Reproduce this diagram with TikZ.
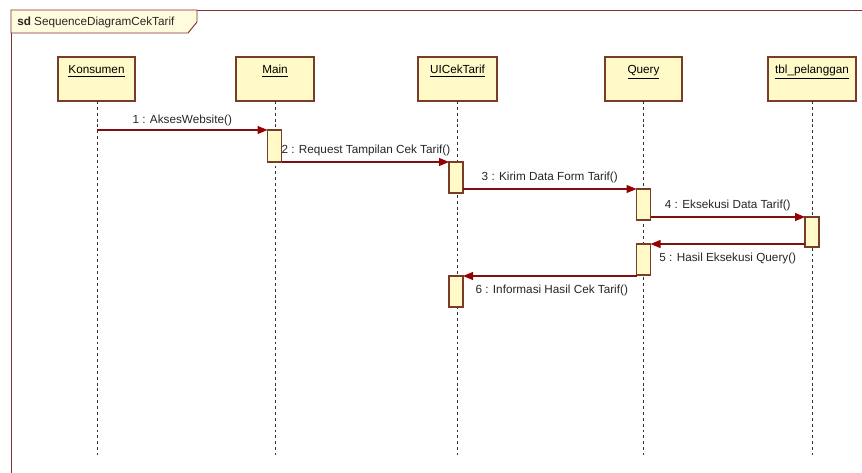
\documentclass[tikz,border=0pt]{standalone}
\usepackage{fontspec}
\setmainfont{Liberation Sans}
\usetikzlibrary{arrows.meta}
\definecolor{frameC}{RGB}{128,48,48}
\definecolor{boxFill}{RGB}{255,250,200}
\definecolor{boxDraw}{RGB}{120,60,40}
\definecolor{msgC}{RGB}{128,16,16}
\definecolor{tipC}{RGB}{150,0,0}
\tikzset{
  head/.style={draw=boxDraw, fill=boxFill, line width=0.8pt, inner xsep=0pt, inner ysep=0pt, outer sep=0pt,
    minimum height=33pt, text height=12.75pt, text depth=20.25pt, font=\fontsize{8.8}{10}\selectfont},
  act/.style={draw=boxDraw, fill=boxFill, line width=0.8pt, inner sep=0pt, outer sep=0pt, minimum width=10.5pt},
  life/.style={draw=black!80, line width=0.6pt, dash pattern=on 2.2pt off 2.2pt},
  msg/.style={draw=msgC, line width=0.8pt, -{Triangle[length=7.5pt,width=6pt,fill=tipC,color=tipC]}},
  lbl/.style={font=\fontsize{8.8}{10}\selectfont, text=black!85, inner sep=1.5pt},
}
\begin{document}
\begin{tikzpicture}[x=0.75pt,y=-0.75pt]
\useasboundingbox (0,0) rectangle (862,473);
\fill[white] (0,0) rectangle (862,473);
% frame
\draw[frameC, line width=0.7pt] (11,473) -- (11,10) -- (862,10);
\filldraw[draw=frameC, fill=boxFill!60, line width=0.7pt] (11,10) -- (197,10) -- (197,22) -- (188,33) -- (11,33) -- cycle;
\node[lbl, anchor=west, name=title] at (15,22) {\textbf{sd} SequenceDiagramCekTarif};
% heads
\node[head, minimum width=57.75pt] (konsumen) at (96.5,79) {\underline{Konsumen}};
\node[head, minimum width=58.5pt] (main) at (275,79) {\underline{Main}};
\node[head, minimum width=59.25pt] (ui) at (457.5,79) {\underline{UICekTarif}};
\node[head, minimum width=57.75pt] (query) at (643.5,79) {\underline{Query}};
\node[head, minimum width=66pt] (tbl) at (812,79) {\underline{tbl\_pelanggan}};
% lifelines
\coordinate (kend) at (97,455);
\coordinate (mend) at (275,455);
\coordinate (uend) at (457.5,455);
\coordinate (qend) at (643.5,455);
\coordinate (tend) at (812,455);
\draw[life] (konsumen.south -| kend) -- (kend);
\draw[life] (main.south) -- (mend);
\draw[life] (ui.south) -- (uend);
\draw[life] (query.south) -- (qend);
\draw[life] (tbl.south) -- (tend);
% activations
\node[act, minimum height=24pt] (a1) at (274.5,146) {};
\node[act, minimum height=23.25pt] (a2) at (456,177.5) {};
\node[act, minimum height=23.25pt] (a3) at (643.5,204.5) {};
\node[act, minimum height=22.5pt] (a4) at (812,232) {};
\node[act, minimum height=23.25pt] (a5) at (643.5,259.5) {};
\node[act, minimum height=23.25pt] (a6) at (456,291.5) {};
% messages
\coordinate (k1) at (97,130);
\draw[msg] (k1) -- (a1.north west) node[lbl, midway, above=1.5pt, name=l1] {1 : AksesWebsite()};
\draw[msg] (a1.south east) -- (a2.north west) node[lbl, midway, above=2.5pt, xshift=0.5pt, name=l2] {2 : Request Tampilan Cek Tarif()};
\draw[msg] (a2.east |- a3.north) -- (a3.north west) node[lbl, midway, above=2.5pt, name=l3] {3 : Kirim Data Form Tarif()};
\draw[msg] (a3.east |- a4.north) -- (a4.north west) node[lbl, midway, above=2.5pt, name=l4] {4 : Eksekusi Data Tarif()};
\draw[msg] (a4.west |- a5.north) -- (a5.north east) node[lbl, midway, below=5pt, name=l5] {5 : Hasil Eksekusi Query()};
\draw[msg] (a5.west |- a6.north) -- (a6.north east) node[lbl, midway, below=4.5pt, xshift=1.5pt, name=l6] {6 : Informasi Hasil Cek Tarif()};
\end{tikzpicture}
\end{document}
